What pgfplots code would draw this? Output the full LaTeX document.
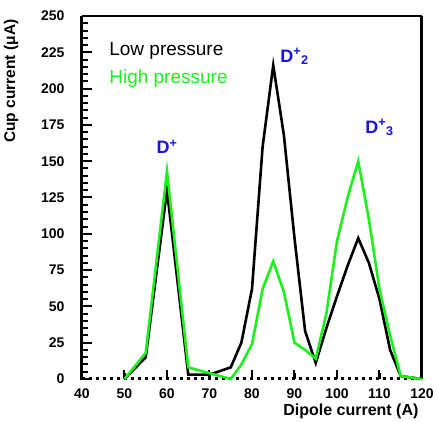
\documentclass[border=0pt]{standalone}
\usepackage{pgfplots}
\pgfplotsset{compat=1.18}
\usepackage{fontspec}
\setmainfont{Liberation Sans}
\definecolor{hgreen}{RGB}{30,240,30}
\definecolor{dblue}{RGB}{20,20,230}
\begin{document}
\begin{tikzpicture}
\begin{axis}[
  scale only axis,
  width=340pt, height=363pt,
  xmin=40, xmax=120, ymin=0, ymax=250,
  xtick={40,50,...,120},
  ytick={0,25,...,250},
  minor y tick num=4,
  xtick pos=left, ytick pos=left,
  tick align=inside,
  major tick length=9pt, minor tick length=5pt,
  major tick style={black, line width=2pt},
  minor tick style={black, line width=2pt},
  axis line style={draw=none},
  /pgf/number format/assume math mode=true,
  ticklabel style={font=\fontsize{14}{16}\selectfont\bfseries},
  yticklabel style={xshift=-14pt},
  xticklabel style={yshift=-6pt},
  xlabel={\fontsize{16}{18}\selectfont\bfseries Dipole current (A)},
  xlabel style={at={(axis description cs:1,0)}, anchor=north east, yshift=-21pt},
  ylabel={\fontsize{15.5}{17}\selectfont\bfseries Cup current (μA)},
  ylabel style={at={(axis description cs:0,1)}, anchor=south east, yshift=60pt},
  clip=false,
]
% frame
\draw[line width=3pt] (axis cs:40,-1) -- (axis cs:40,250);
\draw[line width=2pt] (axis cs:40,250) -- (axis cs:120,250);
\draw[line width=3pt] (axis cs:120,250) -- (axis cs:120,0);
\draw[line width=3pt, dash pattern=on 3pt off 4pt] (axis cs:40,0) -- (axis cs:120,0);
% tick marks drawn as short plotted segments
\pgfplotsinvokeforeach{5,10,...,245}{\addplot[black, line width=2pt, mark=none, forget plot] coordinates {(40,#1) (41.3,#1)};}
\pgfplotsinvokeforeach{25,50,...,225}{\addplot[black, line width=2pt, mark=none, forget plot] coordinates {(40,#1) (42.3,#1)};}
\pgfplotsinvokeforeach{50,60,...,110}{\addplot[black, line width=2.4pt, mark=none, forget plot] coordinates {(#1,0) (#1,3.8)};}
% Low pressure
\addplot[black, line width=2.6pt, mark=none] coordinates {
(50,0) (55,15) (60,130) (65,3) (70,3) (75,8) (77.5,25) (80,62) (82.5,160) (85,216)
(87.5,168) (90,97) (92.5,33) (95,11) (97.5,35) (100,57) (102.5,78) (105,97)
(107.5,80) (110,55) (112.5,20) (115,2) (120,0)};
% High pressure
\addplot[hgreen, line width=2.6pt, mark=none] coordinates {
(50,0) (55,18) (60,143) (65,8) (70,4) (75,0) (77.5,10) (80,24) (82.5,62) (85,81)
(87.5,60) (90,25) (92.5,20) (95,14) (97.5,45) (100,95) (102.5,125) (105,150)
(107.5,110) (110,62) (112.5,30) (115,2) (120,0)};
\node[anchor=west, font=\fontsize{19}{21}\selectfont, black] at (axis cs:45.6,226) {Low pressure};
\node[anchor=west, font=\fontsize{19}{21}\selectfont, hgreen] at (axis cs:45.6,207) {High pressure};
\node[dblue, font=\fontsize{18}{20}\selectfont\bfseries] at (axis cs:60,160) {D\textsuperscript{+}};
\node[dblue, font=\fontsize{18}{20}\selectfont\bfseries] at (axis cs:90,222) {D\textsuperscript{+}\textsubscript{2}};
\node[dblue, font=\fontsize{18}{20}\selectfont\bfseries] at (axis cs:110,173) {D\textsuperscript{+}\textsubscript{3}};
\path (rel axis cs:0,0) ++(-82pt,-41pt) coordinate (bbsw);
\path (rel axis cs:1,1) ++(15pt,16pt) coordinate (bbne);
\end{axis}
\useasboundingbox (bbsw) rectangle (bbne);
\end{tikzpicture}
\end{document}
